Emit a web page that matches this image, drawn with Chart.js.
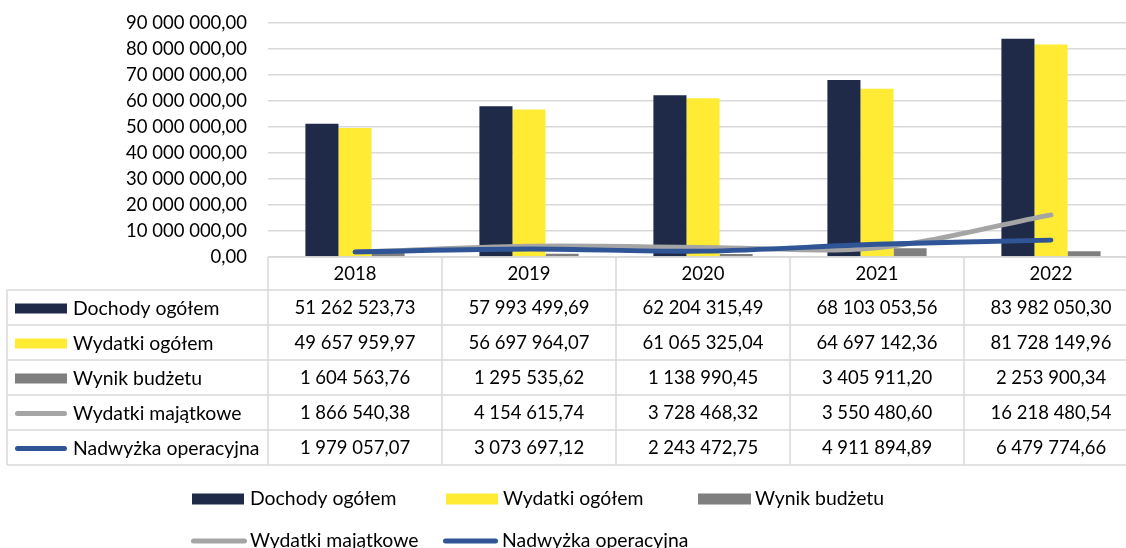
<!DOCTYPE html>
<html><head><meta charset="utf-8">
<script src="https://cdn.jsdelivr.net/npm/chart.js@4.4.1/dist/chart.umd.min.js"></script>
<style>
html,body{margin:0;padding:0;overflow:hidden;background:#fff;width:1126px;height:548px}
canvas{position:absolute;left:0;top:0}
</style></head>
<body><canvas id="c" width="1140" height="548"></canvas>
<script>
const years = ['2018','2019','2020','2021','2022'];
const dochody = [51262523.73, 57993499.69, 62204315.49, 68103053.56, 83982050.30];
const wydatki = [49657959.97, 56697964.07, 61065325.04, 64697142.36, 81728149.96];
const wynik = [1604563.76, 1295535.62, 1138990.45, 3405911.20, 2253900.34];
const majatkowe = [1866540.38, 4154615.74, 3728468.32, 3550480.60, 16218480.54];
const nadwyzka = [1979057.07, 3073697.12, 2243472.75, 4911894.89, 6479774.66];
const seriesNames = ['Dochody ogółem','Wydatki ogółem','Wynik budżetu','Wydatki majątkowe','Nadwyżka operacyjna'];
const yMin = 0, yMax = 90000000, yStep = 10000000;

const colors = ['#1F2A48','#FFEB33','#7F7F7F','#A5A5A5','#2F5597'];
const kinds = ['bar','bar','bar','line','line'];
const seriesData = [dochody, wydatki, wynik, majatkowe, nadwyzka];
const FONT = 'Lato, "Open Sans", sans-serif';
const FS_NUM = 18.5;
const FS_TXT = 19.4;

function fmt(v){
  const s = Math.abs(v).toFixed(2).split('.');
  const int = s[0].replace(/\B(?=(\d{3})+(?!\d))/g,' ');
  return (v<0?'-':'') + int + ',' + s[1];
}

const tableLegend = {
  id:'tableLegend',
  afterDraw(chart){
    const ctx = chart.ctx, xs = chart.scales.x, a = chart.chartArea;
    const n = years.length;
    const colW = (a.right - a.left)/n;
    const top = a.bottom;
    const headerH = 33, rowH = 35, leftX = 7;
    const bodyTop = top + headerH;
    const bottom = bodyTop + seriesNames.length*rowH;
    ctx.save();
    ctx.strokeStyle = '#D9D9D9'; ctx.lineWidth = 1.5;
    ctx.beginPath();
    ctx.moveTo(a.left, top); ctx.lineTo(a.right, top);
    for (let r=0;r<=seriesNames.length;r++){
      const y = bodyTop + r*rowH; ctx.moveTo(leftX, y); ctx.lineTo(a.right, y);
    }
    ctx.moveTo(leftX, bodyTop); ctx.lineTo(leftX, bottom);
    for (let i=0;i<=n;i++){
      const x = xs.getPixelForValue(Math.min(i,n-1)) + (i===n ? colW/2 : -colW/2);
      ctx.moveTo(x, top); ctx.lineTo(x, bottom);
    }
    ctx.stroke();
    ctx.fillStyle = '#000';
    ctx.textBaseline = 'middle';
    ctx.textAlign = 'center';
    ctx.font = FS_NUM + 'px ' + FONT;
    years.forEach((y,i)=>{ ctx.fillText(y, xs.getPixelForValue(i), top + headerH/2 + 1); });
    seriesNames.forEach((name,r)=>{
      const cy = bodyTop + r*rowH + rowH/2 + 1;
      drawSwatch(ctx, r, 15, 67, cy, 10);
      ctx.fillStyle = '#000';
      ctx.textAlign = 'left';
      ctx.font = FS_TXT + 'px ' + FONT;
      ctx.fillText(name, 73, cy);
      ctx.textAlign = 'center';
      ctx.font = FS_NUM + 'px ' + FONT;
      seriesData[r].forEach((v,i)=>{ ctx.fillText(fmt(v), xs.getPixelForValue(i), cy); });
    });
    // legend
    ctx.font = FS_TXT + 'px ' + FONT;
    const leg = [[0,192,244,250,499],[1,446,498,503,499],[2,698,751,755,499],[3,191,247,250,541],[4,443,498,502,541]];
    leg.forEach(([r,x0,x1,tx,cy])=>{
      drawSwatch(ctx, r, x0, x1, cy, 11);
      ctx.fillStyle = '#000'; ctx.textAlign = 'left';
      ctx.fillText(seriesNames[r], tx, cy);
    });
    ctx.restore();
  }
};
function drawSwatch(ctx, r, x0, x1, cy, h){
  if (kinds[r]==='bar'){
    ctx.fillStyle = colors[r];
    ctx.fillRect(x0, cy - h/2, x1-x0, h);
  } else {
    ctx.strokeStyle = colors[r]; ctx.lineWidth = 5; ctx.lineCap = 'round';
    ctx.beginPath(); ctx.moveTo(x0+2.5, cy); ctx.lineTo(x1-2.5, cy); ctx.stroke();
  }
}

const lineOrder = [null,null,null,1,0];
const datasets = seriesNames.map((name,i)=>{
  if (kinds[i]==='bar') return {type:'bar', label:name, data:seriesData[i], backgroundColor:colors[i], borderWidth:0, order:2, categoryPercentage:0.57, barPercentage:1};
  return {type:'line', label:name, data:seriesData[i], borderColor:colors[i], backgroundColor:colors[i], borderWidth:4.8, pointRadius:0, tension:0.33, borderCapStyle:'round', borderJoinStyle:'round', order:lineOrder[i], fill:false};
});

Chart.defaults.font.family = FONT;
Chart.defaults.font.size = FS_NUM;
Chart.defaults.color = '#000';

new Chart(document.getElementById('c'), {
  type:'bar',
  data:{labels:years, datasets},
  options:{
    responsive:false, animation:false,
    layout:{padding:{top:23, bottom:291, left:0, right:2}},
    plugins:{legend:{display:false}, tooltip:{enabled:false}},
    scales:{
      x:{display:false},
      y:{min:yMin, max:yMax,
         ticks:{stepSize:yStep, padding:21, color:'#000', font:{size:FS_NUM, family:FONT}, callback:v=>fmt(v)},
         grid:{color:'#D9D9D9', lineWidth:1.5, drawTicks:false},
         border:{display:false},
         afterFit(s){ s.width = 268; s.paddingTop = 0; s.paddingBottom = 0; }
      }
    }
  },
  plugins:[tableLegend]
});
</script>
</body></html>
